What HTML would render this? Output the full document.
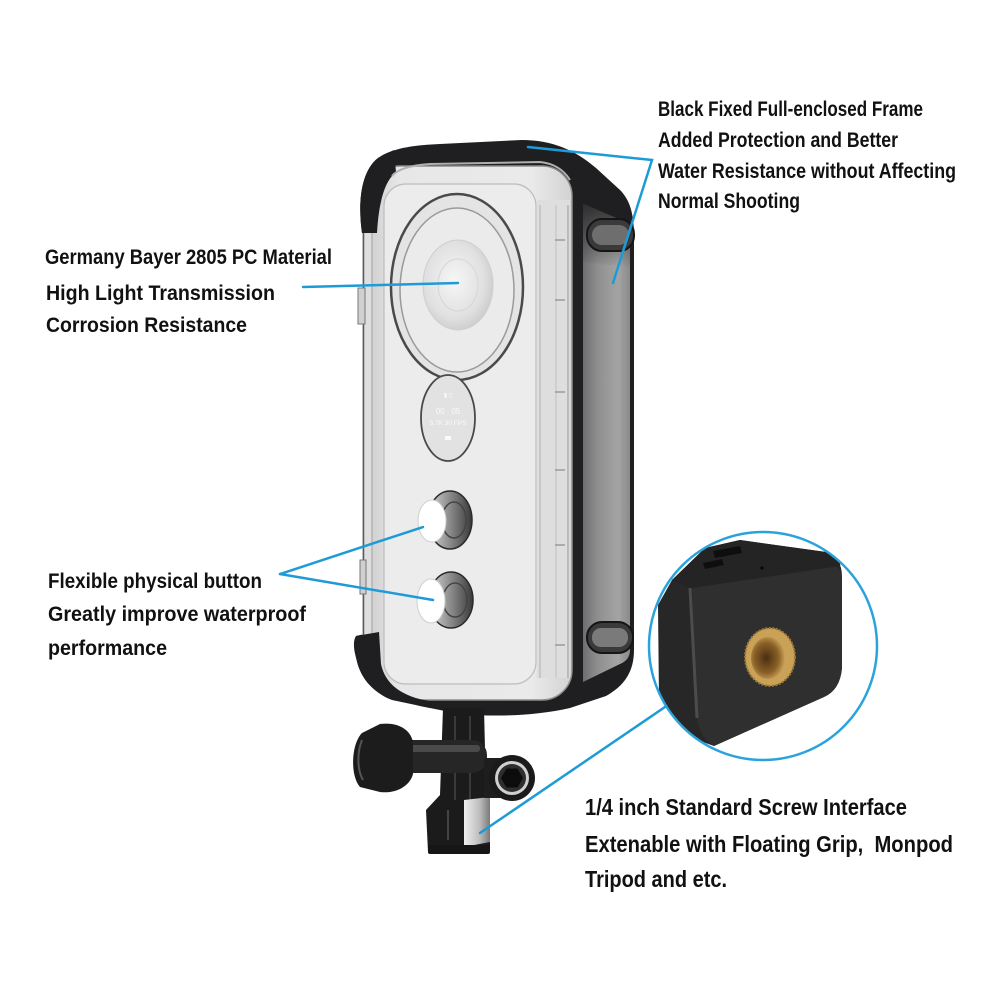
<!DOCTYPE html>
<html><head><meta charset="utf-8"><style>
html,body{margin:0;padding:0;background:#fff;}
svg{display:block;}
text{font-family:"Liberation Sans",Arial,sans-serif;font-weight:bold;fill:#111;}
</style></head><body>
<svg width="1000" height="1000" viewBox="0 0 1000 1000" xmlns="http://www.w3.org/2000/svg">
<defs>
 <linearGradient id="side" x1="0" x2="1" y1="0" y2="0">
  <stop offset="0" stop-color="#6e6e6e"/><stop offset="0.3" stop-color="#8e8e8e"/>
  <stop offset="0.75" stop-color="#a4a4a4"/><stop offset="1" stop-color="#8a8a8a"/>
 </linearGradient>
 <linearGradient id="sideTop" x1="0" x2="0" y1="0" y2="1">
  <stop offset="0" stop-color="#2a2a2a" stop-opacity="0.95"/><stop offset="1" stop-color="#2a2a2a" stop-opacity="0"/>
 </linearGradient>
 <linearGradient id="front" x1="0" x2="1" y1="0" y2="0">
  <stop offset="0" stop-color="#d0d0d0"/><stop offset="0.15" stop-color="#e7e7e7"/>
  <stop offset="0.8" stop-color="#eaeaea"/><stop offset="1" stop-color="#d2d2d2"/>
 </linearGradient>
 <radialGradient id="lens" cx="0.45" cy="0.45" r="0.6">
  <stop offset="0" stop-color="#f6f6f6"/><stop offset="0.7" stop-color="#e0e0e0"/><stop offset="1" stop-color="#c9c9c9"/>
 </radialGradient>
 <linearGradient id="silver" x1="0" x2="1">
  <stop offset="0" stop-color="#f0f0f0"/><stop offset="0.6" stop-color="#bdbdbd"/><stop offset="1" stop-color="#7a7a7a"/>
 </linearGradient>
 <linearGradient id="metal" x1="0" x2="1">
  <stop offset="0" stop-color="#d8d8d8"/><stop offset="0.5" stop-color="#8a8a8a"/><stop offset="1" stop-color="#3a3a3a"/>
 </linearGradient>
 <radialGradient id="hole" cx="0.45" cy="0.5" r="0.6">
  <stop offset="0" stop-color="#4a2e10"/><stop offset="0.6" stop-color="#8a6028"/><stop offset="1" stop-color="#d8b060"/>
 </radialGradient>
 <clipPath id="cc"><circle cx="763" cy="646" r="113"/></clipPath>
</defs>

<!-- ===== Housing ===== -->
<path d="M362,233 C358,205 360,172 378,158 C392,148 415,145 440,144 L522,140 C552,140 575,150 596,168 L620,190 C630,200 634,214 634,236 L634,650 C634,672 624,686 606,696 L570,708 C535,716 495,717 460,714 L420,706 C390,698 368,686 360,668 C354,655 352,642 356,636 L373,632 L373,235 Z" fill="#1f1f21"/>
<!-- side panel -->
<path d="M583,204 L616,218 Q630,226 630,240 L630,650 Q630,660 620,664 L583,682 Z" fill="url(#side)"/>
<path d="M583,204 L616,218 Q630,226 630,240 L630,268 L583,262 Z" fill="url(#sideTop)"/>
<!-- side pills -->
<rect x="587" y="219" width="47" height="32" rx="15" fill="#3a3a3a" stroke="#151515" stroke-width="2"/>
<rect x="592" y="225" width="37" height="20" rx="10" fill="#6e6e6e"/>
<rect x="587" y="622" width="46" height="31" rx="15" fill="#3a3a3a" stroke="#151515" stroke-width="2"/>
<rect x="592" y="628" width="36" height="19" rx="9" fill="#7a7a7a"/>

<!-- clear front -->
<rect x="370" y="166" width="202" height="534" rx="30" fill="url(#front)" stroke="#8e8e8e" stroke-width="1.5"/>
<rect x="384" y="184" width="152" height="500" rx="22" fill="#ececec" stroke="#bdbdbd" stroke-width="1.2"/>
<rect x="537" y="200" width="33" height="478" fill="#dedede"/>
<line x1="540" y1="205" x2="540" y2="678" stroke="#b0b0b0" stroke-width="1"/>
<line x1="556" y1="205" x2="556" y2="678" stroke="#c0c0c0" stroke-width="1"/>
<line x1="568" y1="205" x2="568" y2="678" stroke="#a4a4a4" stroke-width="1.2"/>
<g stroke="#8a8a8a" stroke-width="1.2">
 <line x1="555" y1="240" x2="565" y2="240"/><line x1="555" y1="300" x2="565" y2="300"/>
 <line x1="555" y1="392" x2="565" y2="392"/><line x1="555" y1="470" x2="565" y2="470"/>
 <line x1="555" y1="545" x2="565" y2="545"/><line x1="555" y1="645" x2="565" y2="645"/>
</g>
<!-- left strip -->
<rect x="362" y="233" width="11" height="403" fill="#dedede"/>
<line x1="363.5" y1="233" x2="363.5" y2="636" stroke="#5a5a5a" stroke-width="1.5"/>
<line x1="372" y1="233" x2="372" y2="636" stroke="#9a9a9a" stroke-width="1"/>
<rect x="358" y="288" width="7" height="36" fill="#d0d0d0" stroke="#777" stroke-width="1"/>
<rect x="360" y="560" width="6" height="34" fill="#d0d0d0" stroke="#777" stroke-width="1"/>
<!-- ears -->
<path d="M362,233 C358,205 360,172 378,158 L394,150 L396,172 C386,180 379,198 377,233 Z" fill="#1f1f21"/>
<path d="M356,636 C352,662 362,688 392,700 L430,708 L430,701 C402,697 385,684 381,664 L379,632 Z" fill="#1f1f21"/>
<path d="M392,176 Q400,166 430,164 L540,162 Q560,164 570,180" fill="none" stroke="#b0b0b0" stroke-width="2"/>

<!-- lens ring -->
<ellipse cx="457" cy="287" rx="66" ry="93" fill="#e4e4e4" stroke="#4a4a4a" stroke-width="2.5"/>
<ellipse cx="457" cy="290" rx="57" ry="82" fill="#ebebeb" stroke="#9a9a9a" stroke-width="1.5"/>
<ellipse cx="458" cy="285" rx="35" ry="45" fill="url(#lens)" stroke="#cfcfcf" stroke-width="1"/>
<ellipse cx="458" cy="285" rx="20" ry="26" fill="none" stroke="#d6d6d6" stroke-width="1"/>
<!-- screen -->
<ellipse cx="448" cy="418" rx="27" ry="43" fill="#e2e2e2" stroke="#4a4a4a" stroke-width="1.8"/>
<text x="448" y="397" text-anchor="middle" style="font-size:6px;fill:#fafafa;font-weight:normal">▮ ▯</text>
<text x="448" y="414" text-anchor="middle" style="font-size:8px;fill:#fafafa;font-weight:normal">00 : 05</text>
<text x="448" y="425" text-anchor="middle" style="font-size:6.5px;fill:#fafafa;font-weight:normal">5.7K 30 FPS</text>
<rect x="445" y="436" width="6" height="4" fill="#fafafa"/>

<!-- buttons -->
<ellipse cx="450" cy="520" rx="22" ry="29" fill="url(#metal)" stroke="#2a2a2a" stroke-width="1.5"/>
<ellipse cx="454" cy="520" rx="12" ry="18" fill="none" stroke="#444" stroke-width="1.5"/>
<ellipse cx="432" cy="521" rx="14" ry="21" fill="#ffffff" stroke="#cfcfcf" stroke-width="1"/>
<ellipse cx="451" cy="600" rx="22" ry="28" fill="url(#metal)" stroke="#2a2a2a" stroke-width="1.5"/>
<ellipse cx="455" cy="600" rx="12" ry="17" fill="none" stroke="#444" stroke-width="1.5"/>
<ellipse cx="431" cy="601" rx="14" ry="22" fill="#ffffff" stroke="#cfcfcf" stroke-width="1"/>

<!-- ===== Mount ===== -->
<path d="M443,708 L484,708 L486,790 L490,800 L490,852 L428,852 L426,810 L440,795 Z" fill="#1b1b1b"/>
<line x1="455" y1="716" x2="455" y2="800" stroke="#3a3a3a" stroke-width="2"/>
<line x1="470" y1="716" x2="470" y2="800" stroke="#3a3a3a" stroke-width="2"/>
<line x1="448" y1="810" x2="448" y2="840" stroke="#444" stroke-width="2"/>
<path d="M464,800 L490,797 L490,842 L464,847 Z" fill="url(#silver)"/>
<rect x="428" y="845" width="62" height="9" rx="2" fill="#161616"/>
<rect x="395" y="740" width="92" height="33" rx="15" fill="#262626"/>
<rect x="400" y="745" width="80" height="7" rx="3" fill="#4a4a4a"/>
<path d="M362,733 C351,744 350,776 360,787 L380,792 C396,794 410,786 413,774 L413,742 C410,728 396,722 380,724 Z" fill="#1c1c1c"/>
<path d="M362,740 C357,752 357,770 363,780" fill="none" stroke="#555" stroke-width="2"/>
<rect x="484" y="758" width="26" height="40" fill="#1e1e1e"/>
<circle cx="512" cy="778" r="23" fill="#1a1a1a"/>
<circle cx="512" cy="778" r="17" fill="#cfcfcf"/>
<circle cx="512" cy="778" r="14" fill="#2e2e2e"/>
<polygon points="523,778 517.5,787.5 506.5,787.5 501,778 506.5,768.5 517.5,768.5" fill="#0c0c0c"/>

<!-- ===== Inset circle ===== -->
<circle cx="763" cy="646" r="114" fill="#ffffff"/>
<g clip-path="url(#cc)">
 <path d="M658,605 L672,580 L705,548 L740,540 L826,552 Q842,557 842,577 L842,668 Q840,690 824,697 L714,746 L686,736 Q664,722 659,700 Z" fill="#272727"/>
 <path d="M692,588 L828,562 Q842,566 842,582 L842,668 Q840,690 824,697 L714,746 Q700,738 697,718 Z" fill="#2f2f2f"/>
 <path d="M690,588 L697,718" stroke="#4c4c4c" stroke-width="3" fill="none"/>
 <path d="M672,580 L705,548 L740,540 L826,552 Q842,557 840,566 L692,588 Z" fill="#242424"/>
 <path d="M713,551 L740,546 L742,553 L715,558 Z" fill="#0e0e0e"/>
 <path d="M703,563 L722,559 L724,565 L705,569 Z" fill="#0e0e0e"/>
 <circle cx="762" cy="568" r="1.8" fill="#0a0a0a"/>
 <ellipse cx="770" cy="657" rx="25" ry="29" fill="#c9a257" stroke="#9a7532" stroke-width="2" stroke-dasharray="2 1.5"/>
 <ellipse cx="768" cy="658" rx="17" ry="21" fill="url(#hole)"/>
</g>
<circle cx="763" cy="646" r="114" fill="none" stroke="#2aa3dc" stroke-width="2.5"/>

<!-- ===== Callout lines ===== -->
<g stroke="#1e9bd7" stroke-width="2.5" fill="none" stroke-linecap="round">
 <polyline points="528,147 652,160 613,283"/>
 <line x1="303" y1="287" x2="458" y2="283"/>
 <line x1="280" y1="574" x2="423" y2="527"/>
 <line x1="280" y1="574" x2="433" y2="600"/>
 <line x1="480" y1="833" x2="665" y2="707"/>
</g>

<!-- ===== Text ===== -->
<g style="font-size:21px">
 <text x="658" y="116" textLength="265" lengthAdjust="spacingAndGlyphs">Black Fixed Full-enclosed Frame</text>
 <text x="658" y="147" textLength="240" lengthAdjust="spacingAndGlyphs">Added Protection and Better</text>
 <text x="658" y="178" textLength="298" lengthAdjust="spacingAndGlyphs">Water Resistance without Affecting</text>
 <text x="658" y="208" textLength="142" lengthAdjust="spacingAndGlyphs">Normal Shooting</text>

 <text x="45" y="264" textLength="287" lengthAdjust="spacingAndGlyphs">Germany Bayer 2805 PC Material</text>
 <text x="46" y="300" textLength="229" lengthAdjust="spacingAndGlyphs">High Light Transmission</text>
 <text x="46" y="332" textLength="201" lengthAdjust="spacingAndGlyphs">Corrosion Resistance</text>

 <text x="48" y="588" textLength="214" lengthAdjust="spacingAndGlyphs">Flexible physical button</text>
 <text x="48" y="621" textLength="258" lengthAdjust="spacingAndGlyphs">Greatly improve waterproof</text>
 <text x="48" y="655" textLength="119" lengthAdjust="spacingAndGlyphs">performance</text>
</g>
<g style="font-size:23px">
 <text x="585" y="815" textLength="322" lengthAdjust="spacingAndGlyphs">1/4 inch Standard Screw Interface</text>
 <text x="585" y="852" textLength="368" lengthAdjust="spacingAndGlyphs">Extenable with Floating Grip,&#160; Monpod</text>
 <text x="585" y="887" textLength="142" lengthAdjust="spacingAndGlyphs">Tripod and etc.</text>
</g>
</svg>
</body></html>
